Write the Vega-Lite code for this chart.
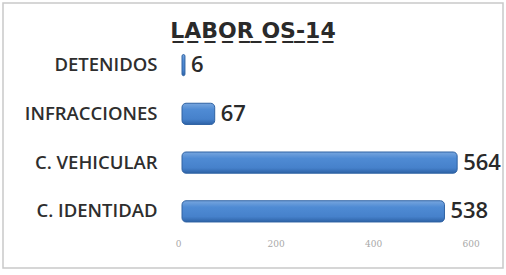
{
  "$schema": "https://vega.github.io/schema/vega-lite/v6.json",
  "autosize": {"type": "none"},
  "padding": {"left": 3, "top": 3, "right": 3, "bottom": 7},
  "width": 500,
  "height": 265,
  "background": "white",
  "title": {
    "text": "L̲A̲B̲O̲R̲ ̲O̲S̲-̲1̲4̲",
    "frame": "group",
    "anchor": "middle",
    "offset": 0,
    "dy": 57,
    "baseline": "alphabetic",
    "font": "DejaVu Sans",
    "fontSize": 22,
    "fontWeight": "bold",
    "color": "#2a2a2a"
  },
  "config": {
    "view": {"stroke": "#c9c9c9", "strokeWidth": 1.5},
    "font": "Open Sans"
  },
  "data": {
    "values": [
      {"categoria": "DETENIDOS", "valor": 6},
      {"categoria": "INFRACCIONES", "valor": 67},
      {"categoria": "C. VEHICULAR", "valor": 564},
      {"categoria": "C. IDENTIDAD", "valor": 538}
    ]
  },
  "encoding": {
    "y": {
      "field": "categoria",
      "type": "nominal",
      "sort": null,
      "scale": {"paddingInner": 0.565, "paddingOuter": 1.49, "align": 0.528},
      "axis": {
        "title": null,
        "orient": "left",
        "offset": -156,
        "domain": false,
        "ticks": false,
        "tickSize": 0,
        "labelPadding": 2,
        "labelFont": "Open Sans",
        "labelFontSize": 18.5,
        "labelFontWeight": 600,
        "labelColor": "#2e2e2e",
        "grid": false
      }
    },
    "x": {
      "field": "valor",
      "type": "quantitative",
      "scale": {"domain": [-367, 658], "zero": false, "nice": false},
      "axis": {
        "title": null,
        "values": [0, 200, 400, 600],
        "offset": -31,
        "domain": false,
        "ticks": false,
        "tickSize": 0,
        "labelPadding": 2,
        "labelFont": "DejaVu Serif",
        "labelFontSize": 9,
        "labelColor": "#a8a8a8",
        "labelOffset": -4,
        "grid": false
      }
    }
  },
  "layer": [
    {
      "mark": {
        "type": "bar",
        "cornerRadius": 4,
        "stroke": "#2f62a3",
        "strokeWidth": 1,
        "color": {
          "gradient": "linear",
          "x1": 0, "y1": 0, "x2": 0, "y2": 1,
          "stops": [
            {"offset": 0, "color": "#78a6de"},
            {"offset": 0.3, "color": "#4f8bd4"},
            {"offset": 0.75, "color": "#4681cb"},
            {"offset": 1, "color": "#2d62a6"}
          ]
        }
      },
      "encoding": {"x2": {"datum": 0}}
    },
    {
      "mark": {
        "type": "text",
        "align": "left",
        "baseline": "middle",
        "dx": 6,
        "font": "Open Sans",
        "fontSize": 22,
        "fontWeight": 600,
        "color": "#2a2a2a"
      },
      "encoding": {"text": {"field": "valor", "type": "quantitative"}}
    }
  ]
}
